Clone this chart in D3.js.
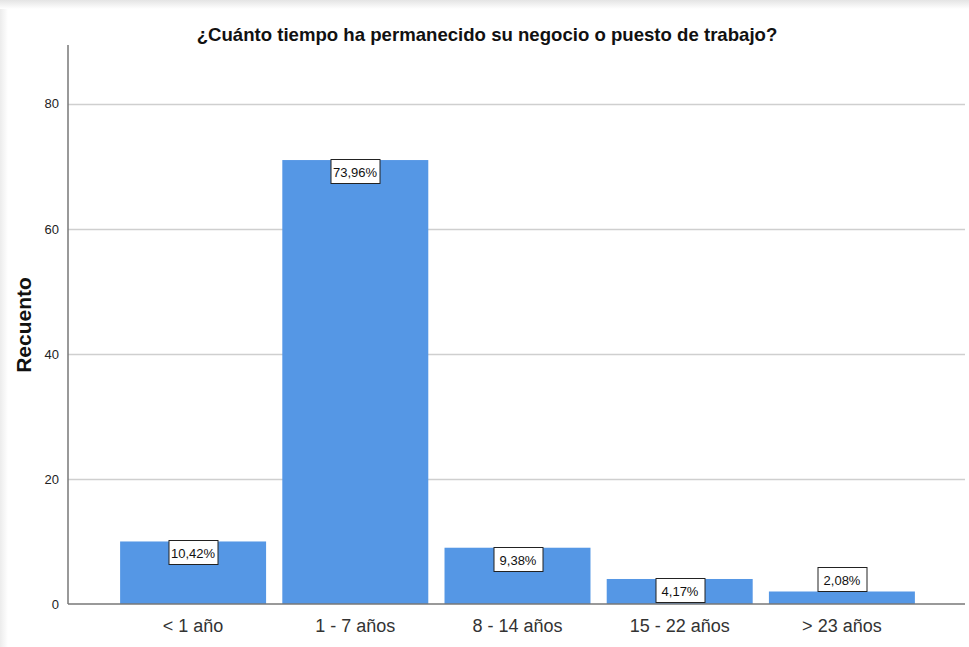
<!DOCTYPE html>
<html>
<head>
<meta charset="utf-8">
<script src="https://cdn.jsdelivr.net/npm/d3@7"></script>
<style>
  body { margin: 0; background: #fff; }
  svg { display: block; font-family: "Liberation Sans", Arial, sans-serif; }
</style>
</head>
<body>
<div id="chart"></div>
<script>
// data
const categories = ['< 1 año', '1 - 7 años', '8 - 14 años', '15 - 22 años', '> 23 años'];
const counts = [10, 71, 9, 4, 2];
const pctLabels = ['10,42%', '73,96%', '9,38%', '4,17%', '2,08%'];
const yTicks = [0, 20, 40, 60, 80];

const W = 969, H = 647;
const m = {left: 68, right: 4, top: 45, bottom: 43};

const svg = d3.select('#chart').append('svg')
  .attr('width', W).attr('height', H);

// faint frame shadow at top/left
const defs = svg.append('defs');
const gTop = defs.append('linearGradient').attr('id', 'shTop').attr('x1', 0).attr('x2', 0).attr('y1', 0).attr('y2', 1);
gTop.append('stop').attr('offset', 0).attr('stop-color', '#e4e4e4');
gTop.append('stop').attr('offset', 1).attr('stop-color', '#fff');
const gLeft = defs.append('linearGradient').attr('id', 'shLeft').attr('x1', 0).attr('x2', 1).attr('y1', 0).attr('y2', 0);
gLeft.append('stop').attr('offset', 0).attr('stop-color', '#ececec');
gLeft.append('stop').attr('offset', 1).attr('stop-color', '#fff');
svg.append('rect').attr('x', 0).attr('y', 0).attr('width', W).attr('height', 9).attr('fill', 'url(#shTop)');
svg.append('rect').attr('x', 0).attr('y', 9).attr('width', 8).attr('height', H).attr('fill', 'url(#shLeft)');

const x = d3.scaleBand()
  .domain(categories)
  .range([112, 923])
  .paddingInner(0.1)
  .paddingOuter(0.05);

const y = d3.scaleLinear()
  .domain([0, 89.4])
  .range([H - m.bottom, m.top]);

// gridlines
svg.append('g')
  .selectAll('line')
  .data(yTicks.filter(d => d > 0))
  .join('line')
  .attr('x1', m.left).attr('x2', W - m.right)
  .attr('y1', d => Math.round(y(d)) + 0.5).attr('y2', d => Math.round(y(d)) + 0.5)
  .attr('stroke', '#cfcfcf').attr('stroke-width', 1.5);

// bars
svg.append('g')
  .selectAll('rect')
  .data(counts)
  .join('rect')
  .attr('x', (d, i) => x(categories[i]))
  .attr('width', x.bandwidth())
  .attr('y', d => y(d))
  .attr('height', d => y(0) - y(d))
  .attr('fill', '#5597e5');

// baseline
svg.append('line')
  .attr('x1', m.left).attr('x2', W - m.right)
  .attr('y1', y(0)).attr('y2', y(0))
  .attr('stroke', '#777').attr('stroke-width', 1.5);

// y axis
const yAxis = svg.append('g')
  .attr('transform', `translate(${m.left},0)`)
  .call(d3.axisLeft(y).tickValues(yTicks).tickSize(0).tickPadding(9));
yAxis.select('.domain').attr('stroke', '#777').attr('stroke-width', 1.5)
  .attr('d', `M0,${m.top}V${y(0)}`);
yAxis.selectAll('text').attr('font-size', 13).attr('fill', '#222')
  .attr('font-family', '"Liberation Sans", Arial, sans-serif');

// x axis labels
const xAxis = svg.append('g')
  .attr('transform', `translate(0,${y(0)})`)
  .call(d3.axisBottom(x).tickSize(0).tickPadding(15));
xAxis.select('.domain').remove();
xAxis.selectAll('text').attr('font-size', 18).attr('fill', '#333')
  .attr('font-family', '"Liberation Sans", Arial, sans-serif');

// value labels in boxes
const boxW = 49, boxH = 24;
const lab = svg.append('g').selectAll('g')
  .data(counts)
  .join('g')
  .attr('transform', (d, i) => {
    const cx = Math.round(x(categories[i]) + x.bandwidth() / 2);
    const top = Math.round(y(0) - y(d) >= boxH + 1 ? y(d) - 1 : y(d) - boxH);
    return `translate(${cx},${top})`;
  });
lab.append('rect')
  .attr('x', -boxW / 2 + 0.5).attr('y', 0.5)
  .attr('width', boxW).attr('height', boxH)
  .attr('fill', '#fff').attr('stroke', '#222').attr('stroke-width', 1);
lab.append('text')
  .attr('x', 0).attr('y', boxH / 2 + 5.5)
  .attr('text-anchor', 'middle')
  .attr('font-size', 13).attr('fill', '#111')
  .text((d, i) => pctLabels[i]);

// title
svg.append('text')
  .attr('x', 487).attr('y', 41)
  .attr('text-anchor', 'middle')
  .attr('font-size', 18.6).attr('font-weight', 'bold').attr('fill', '#111')
  .text('¿Cuánto tiempo ha permanecido su negocio o puesto de trabajo?');

// y axis title
svg.append('text')
  .attr('transform', `translate(31,325) rotate(-90)`)
  .attr('text-anchor', 'middle')
  .attr('font-size', 21).attr('font-weight', 'bold').attr('fill', '#111')
  .text('Recuento');
</script>
</body>
</html>
